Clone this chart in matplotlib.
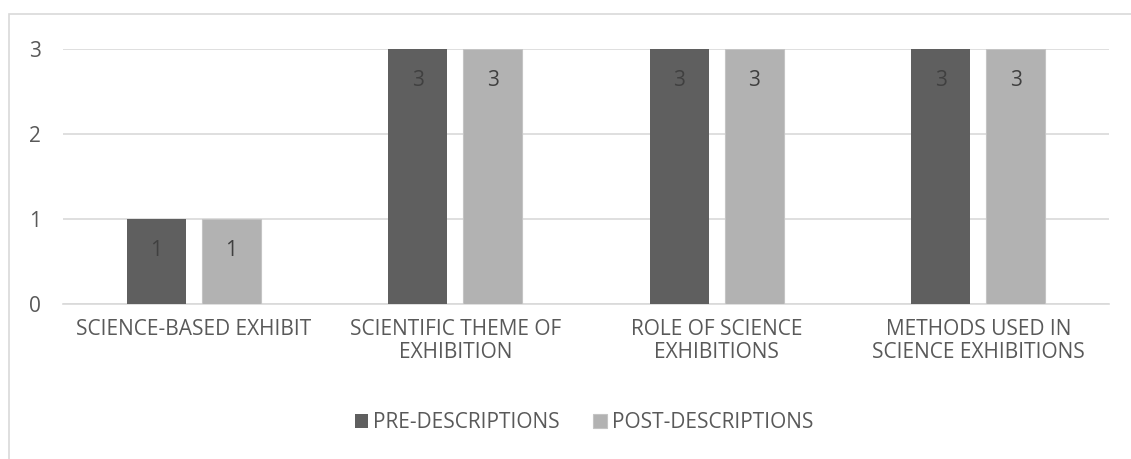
import numpy as np
import matplotlib.pyplot as plt
from matplotlib.patches import Rectangle

plt.rcParams['font.family'] = ['Open Sans', 'DejaVu Sans']

categories = ["SCIENCE-BASED EXHIBIT", "SCIENTIFIC THEME OF\nEXHIBITION",
              "ROLE OF SCIENCE\nEXHIBITIONS", "METHODS USED IN\nSCIENCE EXHIBITIONS"]
pre = [1, 3, 3, 3]
post = [1, 3, 3, 3]
series_names = ["PRE-DESCRIPTIONS", "POST-DESCRIPTIONS"]

dark = "#5f5f5f"
light = "#b2b2b2"
txt = "#595959"

fig = plt.figure(figsize=(11.31, 4.59), dpi=100)
# outer chart frame
fig.patches.append(Rectangle((9/1131, -0.1), 1.2, 1 - 14/459 + 0.1, transform=fig.transFigure,
                             fill=False, edgecolor="#d9d9d9", linewidth=1.2))
ax = fig.add_axes([63/1131, 1 - 304/459, (1109 - 63)/1131, (304 - 49)/459])

x = np.arange(len(categories))
w = 0.226
off = 0.143
b1 = ax.bar(x - off, pre, w, color=dark, label=series_names[0], zorder=3)
b2 = ax.bar(x + off, post, w, color=light, edgecolor="#c4c4c4", linewidth=0.8,
            label=series_names[1], zorder=3)

for bars in (b1, b2):
    for r in bars:
        ax.annotate(f"{int(r.get_height())}", (r.get_x() + r.get_width()/2, r.get_height()),
                    xytext=(0, -31), textcoords="offset pixels",
                    ha="center", va="center", fontsize=15, color="#404040", zorder=4)

ax.set_xlim(-0.5, len(categories) - 0.5)
ax.set_ylim(0, 3)
ax.set_yticks([0, 1, 2, 3])
ax.yaxis.grid(True, color="#d9d9d9", linewidth=1.2, zorder=0)
ax.set_axisbelow(True)
for s in ["top", "right", "left"]:
    ax.spines[s].set_visible(False)
ax.spines["bottom"].set_color("#d9d9d9")
ax.spines["bottom"].set_linewidth(1.2)
ax.tick_params(axis="both", length=0, labelsize=15, colors=txt)
ax.tick_params(axis="y", pad=16)
ax.tick_params(axis="x", pad=11)
ax.set_xticks(x)
ax.set_xticklabels(categories, linespacing=1.1)

fig.legend(handles=[b1, b2], labels=series_names, loc="center", bbox_to_anchor=(584/1131, 1 - 423/459),
           ncol=2, frameon=False, fontsize=15, labelcolor=txt, handlelength=0.65, handleheight=0.65,
           handletextpad=0.25, columnspacing=1.6)

fig.savefig("out.png", dpi=100)
